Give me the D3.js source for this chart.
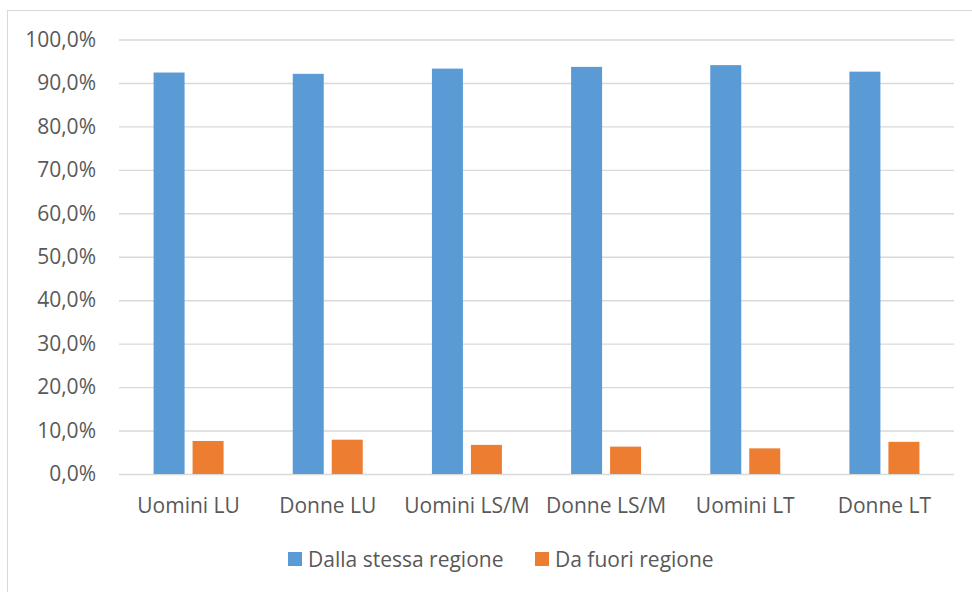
<!DOCTYPE html>
<html>
<head>
<meta charset="utf-8">
<script src="https://cdn.jsdelivr.net/npm/d3@7"></script>
<style>
  body { margin: 0; background: #fff; }
  text { font-family: "Open Sans", "Noto Sans", sans-serif; fill: #595959; }
</style>
</head>
<body>
<div id="chart"></div>
<script>
// data (percent)
var categories = ["Uomini LU", "Donne LU", "Uomini LS/M", "Donne LS/M", "Uomini LT", "Donne LT"];
var seriesNames = ["Dalla stessa regione", "Da fuori regione"];
var stessaRegione = [92.4, 92.1, 93.3, 93.7, 94.1, 92.6];
var fuoriRegione = [7.6, 7.9, 6.7, 6.3, 5.9, 7.4];
var yTicks = [0, 10, 20, 30, 40, 50, 60, 70, 80, 90, 100];
var colors = ["#5B9BD5", "#ED7D31"];

var width = 972;
var height = 592;
var margin = {top: 39.5, right: 18, bottom: 118, left: 119};
var fontSize = "21px";

var svg = d3.select("#chart")
  .append("svg")
    .attr("width", width)
    .attr("height", height);

// chart area border (only top and left edges fall inside the window)
svg.append("rect")
  .attr("x", 7.5)
  .attr("y", 10.5)
  .attr("width", width + 20)
  .attr("height", height + 20)
  .attr("fill", "none")
  .attr("stroke", "#d9d9d9")
  .attr("stroke-width", 1);

var x0 = d3.scaleBand()
  .domain(categories)
  .range([margin.left, width - margin.right])
  .paddingInner(0.497)
  .paddingOuter(0.2485);

var x1 = d3.scaleBand()
  .domain(seriesNames)
  .range([0, x0.bandwidth()])
  .paddingInner(0.205);

var y = d3.scaleLinear()
  .domain([0, 100])
  .range([height - margin.bottom, margin.top]);

var it = d3.formatLocale({decimal: ",", thousands: ".", grouping: [3], currency: ["", "\u20ac"]});
var pct = it.format(".1%");

// gridlines
var grid = svg.append("g")
  .attr("transform", "translate(" + margin.left + ",0)")
  .call(d3.axisLeft(y)
    .tickValues(yTicks)
    .tickSize(-(width - margin.left - margin.right))
    .tickFormat(""));
grid.select(".domain").remove();
grid.selectAll("line").attr("stroke", "#d9d9d9").attr("stroke-width", 1.4);

// y labels
var yAxis = svg.append("g")
  .attr("transform", "translate(" + margin.left + ",0)")
  .call(d3.axisLeft(y)
    .tickValues(yTicks)
    .tickSize(0)
    .tickPadding(23)
    .tickFormat(function(d) { return pct(d / 100); }));
yAxis.select(".domain").remove();
yAxis.selectAll("text")
  .attr("fill", "#595959")
  .style("font-size", fontSize);

// bars
var rows = categories.map(function(c, i) {
  return {cat: c, values: [stessaRegione[i], fuoriRegione[i]]};
});

var groups = svg.selectAll("g.cat")
  .data(rows)
  .enter()
  .append("g")
    .attr("class", "cat")
    .attr("transform", function(d) { return "translate(" + x0(d.cat) + ",0)"; });

groups.selectAll("rect")
  .data(function(d) {
    return d.values.map(function(v, j) { return {name: seriesNames[j], value: v, j: j}; });
  })
  .enter()
  .append("rect")
    .attr("x", function(d) { return x1(d.name); })
    .attr("y", function(d) { return y(d.value); })
    .attr("width", x1.bandwidth())
    .attr("height", function(d) { return y(0) - y(d.value); })
    .attr("fill", function(d) { return colors[d.j]; });

// category labels
var xAxis = svg.append("g")
  .attr("transform", "translate(0," + y(0) + ")")
  .call(d3.axisBottom(x0).tickSize(0).tickPadding(23.8));
xAxis.select(".domain").remove();
xAxis.selectAll("text")
  .attr("fill", "#595959")
  .style("font-size", fontSize);

// legend
var legendX = [288, 535];
var legend = svg.selectAll("g.legend")
  .data(seriesNames)
  .enter()
  .append("g")
    .attr("class", "legend")
    .attr("transform", function(d, i) { return "translate(" + legendX[i] + ",552)"; });

legend.append("rect")
  .attr("width", 14)
  .attr("height", 14)
  .attr("fill", function(d, i) { return colors[i]; });

legend.append("text")
  .attr("x", 20)
  .attr("y", 14.5)
  .style("font-size", fontSize)
  .text(function(d) { return d; });
</script>
</body>
</html>
